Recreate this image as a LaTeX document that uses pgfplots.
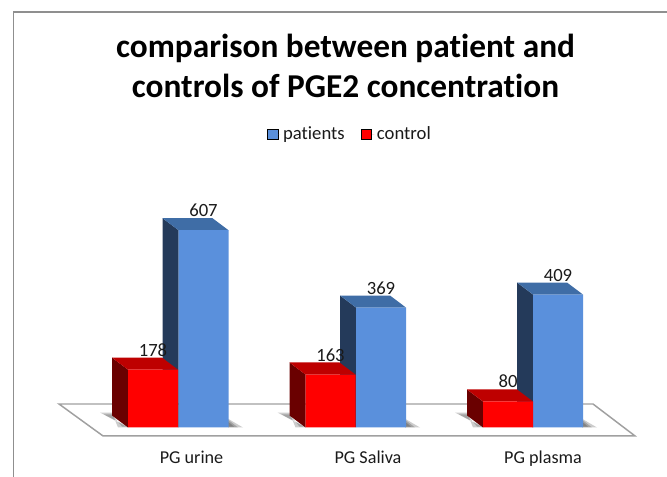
\documentclass[border=0pt]{standalone}
\usepackage{fontspec}
\setmainfont[Ligatures=NoCommon]{Carlito}
\usepackage{pgfplots}
\pgfplotsset{compat=1.18}
\definecolor{bluefront}{HTML}{5A90DC}
\definecolor{blueside}{HTML}{243A5A}
\definecolor{bluetop}{HTML}{3F6DA6}
\definecolor{redfront}{HTML}{FF0000}
\definecolor{redside}{HTML}{6A0000}
\definecolor{redtop}{HTML}{BE0000}
\definecolor{framegray}{HTML}{8F8F8F}
\definecolor{floorgray}{HTML}{A0A0A0}
\definecolor{txt}{HTML}{1A1A1A}

% side and top face of a bar: centre x, value, side colour, top colour
\newcommand{\barfaces}[4]{%
  \pgfmathsetmacro{\xl}{#1-25}\pgfmathsetmacro{\xr}{#1+25}%
  \pgfmathsetmacro{\xbl}{#1-41}\pgfmathsetmacro{\xbr}{#1+9}%
  \pgfmathsetmacro{\yb}{#2+37}%
  \addplot[forget plot,fill=#3,draw=none] coordinates {(\xl,0)(\xl,#2)(\xbl,\yb)(\xbl,37)} -- cycle;
  \addplot[forget plot,fill=#4,draw=none] coordinates {(\xl,#2)(\xbl,\yb)(\xbr,\yb)(\xr,#2)} -- cycle;
}
% one layer of the soft floor shadow
\newcommand{\softshadow}[1]{%
  \addplot[forget plot,fill=black,fill opacity=0.2,draw=none] coordinates {#1} -- cycle;
}

\begin{document}
\begin{tikzpicture}
\begin{axis}[
    width=500.25pt, height=357.75pt,
    scale only axis,
    xmin=0, xmax=667,
    ymin=-152.3, ymax=1315.4,
    axis line style={draw=none},
    tick style={draw=none},
    ytick=\empty,
    xtick={191.5,368,543},
    xticklabels={PG urine,PG Saliva,PG plasma},
    xticklabel style={font=\fontsize{13.6}{16}\selectfont,text=txt,yshift=23pt},
    no markers,
    /pgf/number format/assume math mode=true,
    title={comparison between patient and\\controls of PGE2 concentration},
    title style={at={(0.518,0.846)},anchor=center,align=center,text=black,
      font=\fontsize{25}{30}\selectfont\bfseries},
    legend columns=2,
    legend style={at={(0.525,0.719)},anchor=center,draw=none,fill=none,
      font=\fontsize{14}{16}\selectfont,text=txt,
      /tikz/every even column/.append style={column sep=10pt}},
    legend image code/.code={\draw[#1] (0pt,-3.8pt) rectangle (8pt,3.8pt); \path (8pt,0) -- (10pt,0);},
    barstyle/.style={ybar,bar width=37.5pt,bar shift=0pt,draw=none,
      nodes near coords,
      every node near coord/.append style={font=\fontsize{14}{16}\selectfont,text=txt,yshift=6.5pt}},
]
% frame and floor
\addplot[forget plot,color=framegray,line width=1.1pt] coordinates {(13.5,-152.3)(13.5,1278.5)(667,1278.5)};
\addplot[forget plot,fill=white,draw=floorgray,line width=1.1pt] coordinates {(59,72.3)(593,72.3)(635,-26)(103,-26)} -- cycle;

% shadows
\softshadow{(228,27)(243,0)(228,0)}
\softshadow{(228,24)(238,0)(228,0)}
\softshadow{(228,18)(234,3)(228,3)}
\softshadow{(405,27)(420,0)(405,0)}
\softshadow{(405,24)(415,0)(405,0)}
\softshadow{(405,18)(411,3)(405,3)}
\softshadow{(582,27)(597,0)(582,0)}
\softshadow{(582,24)(592,0)(582,0)}
\softshadow{(582,18)(588,3)(582,3)}
\softshadow{(112,46)(100,46)(128,0)(118,0)}
\softshadow{(112,40)(104,40)(128,3)(122,3)}
\softshadow{(289.5,46)(277.5,46)(305.5,0)(295.5,0)}
\softshadow{(289.5,40)(281.5,40)(305.5,3)(299.5,3)}
\softshadow{(467,46)(455,46)(483,0)(473,0)}
\softshadow{(467,40)(459,40)(483,3)(477,3)}

% patients
\barfaces{203.5}{607}{blueside}{bluetop}
\barfaces{381}{369}{blueside}{bluetop}
\barfaces{558}{409}{blueside}{bluetop}
\addplot[barstyle,fill=bluefront] coordinates {(203.5,607)(381,369)(558,409)};
\addlegendentry{patients}

% control
\barfaces{153}{178}{redside}{redtop}
\barfaces{330.5}{163}{redside}{redtop}
\barfaces{508}{80}{redside}{redtop}
\addplot[barstyle,fill=redfront] coordinates {(153,178)(330.5,163)(508,80)};
\addlegendentry{control}
\end{axis}
\end{tikzpicture}
\end{document}
